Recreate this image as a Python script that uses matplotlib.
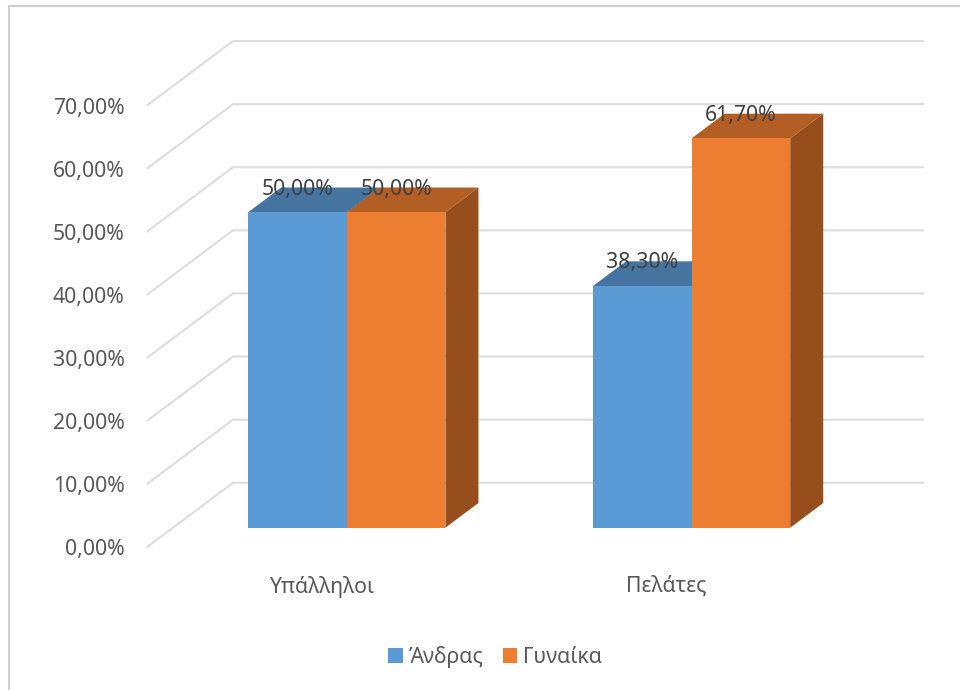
import matplotlib
matplotlib.use("Agg")
import matplotlib.pyplot as plt
from matplotlib.lines import Line2D
from matplotlib.patches import Patch
from matplotlib.transforms import offset_copy

plt.rcParams["font.family"] = ["Noto Sans", "DejaVu Sans"]

categories = ["Υπάλληλοι", "Πελάτες"]
series_names = ["Άνδρας", "Γυναίκα"]
men = [50.0, 38.3]
women = [50.0, 61.7]
value_labels_men = ["50,00%", "38,30%"]
value_labels_women = ["50,00%", "61,70%"]
grid_values = [0, 10, 20, 30, 40, 50, 60, 70]
tick_labels = ["0,00%", "10,00%", "20,00%", "30,00%", "40,00%", "50,00%", "60,00%", "70,00%"]

W, H = 960, 690
X_UNIT, Y_UNIT = 344.8, 6.31      # pixels per category / per percentage point
X0, Y0 = 346.8, 527.7             # pixel position of first category at zero
BAR_W = 0.286
DX, DY = 33 / X_UNIT, 24.7 / Y_UNIT   # oblique offset of one bar depth
D_FRONT, D_BACK = -0.77, 1.82     # floor extent, in bar depths
X_WALL = (233 - X0) / X_UNIT - D_BACK * DX
X_END = (923 - X0) / X_UNIT

BLUE = ("#5B9BD5", "#44749F", "#3A6488")
ORANGE = ("#ED7D31", "#B25E25", "#974E1D")
GREY_TXT = "#595959"
GRID = "#DDDDDD"


def project(x, y, d):
    """Oblique projection: d is depth in units of the bar depth."""
    return x + d * DX, y + d * DY


fig = plt.figure(figsize=(W / 100, H / 100), dpi=100, facecolor="white")
ax = fig.add_axes([0, 0, 1, 1])
ax.set_xlim(-X0 / X_UNIT, (W - X0) / X_UNIT)
ax.set_ylim(-(H - Y0) / Y_UNIT, Y0 / Y_UNIT)
ax.axis("off")

# outer chart border
for xs, ys in (([8.5, 8.5], [5.5, H]), ([8.5, W], [5.5, 5.5])):
    fig.add_artist(Line2D([x / W for x in xs], [1 - y / H for y in ys],
                          color="#CFCFCF", lw=1.5))

# side wall and back wall gridlines with value labels
tick_tf = offset_copy(ax.transData, fig=fig, x=-23, y=-3, units="dots")
for v, lab in zip(grid_values, tick_labels):
    p0 = project(X_WALL, v, D_FRONT)
    p1 = project(X_WALL, v, D_BACK)
    ax.plot([p0[0], p1[0], X_END], [p0[1], p1[1], p1[1]],
            color=GRID, lw=1.5, zorder=1, solid_joinstyle="miter")
    ax.text(p0[0], p0[1], lab, transform=tick_tf, ha="right", va="center",
            color=GREY_TXT, fontsize=15.3)


def draw_box(x_left, value, shades, z):
    x_right = x_left + BAR_W
    front, top, side = shades
    ax.fill(*zip(project(x_left, value, 0), project(x_right, value, 0),
                 project(x_right, value, 1), project(x_left, value, 1)),
            color=top, lw=0, zorder=z)
    ax.fill(*zip(project(x_right, 0, 0), project(x_right, value, 0),
                 project(x_right, value, 1), project(x_right, 0, 1)),
            color=side, lw=0, zorder=z)
    ax.bar(x_left, value, width=BAR_W, align="edge", color=front, lw=0, zorder=z + 0.5)


label_tf = offset_copy(ax.transData, fig=fig, x=0, y=-1.5, units="dots")
for i, cat in enumerate(categories):
    draw_box(i - BAR_W, men[i], BLUE, 2)
    draw_box(i, women[i], ORANGE, 3)
    for x_c, v, lab in ((i - BAR_W / 2, men[i], value_labels_men[i]),
                        (i + BAR_W / 2, women[i], value_labels_women[i])):
        ax.text(x_c, project(x_c, v, 1)[1], lab, transform=label_tf, ha="center", va="center",
                color="#404040", fontsize=15.3, zorder=5)
    px, py = project(i, 0, D_FRONT)
    ax.text(px, py, cat, transform=offset_copy(ax.transData, fig=fig, x=0, y=-40, units="dots"),
            ha="center", va="center", color=GREY_TXT, fontsize=15.3)

handles = [Patch(color=BLUE[0], lw=0), Patch(color=ORANGE[0], lw=0)]
fig.legend(handles, series_names, loc="center", bbox_to_anchor=(495 / W, 1 - 657 / H),
           ncol=2, frameon=False, fontsize=15.3, labelcolor=GREY_TXT,
           handlelength=0.68, handleheight=0.68, handletextpad=0.27, columnspacing=0.9)

fig.savefig("out.png", dpi=100)
